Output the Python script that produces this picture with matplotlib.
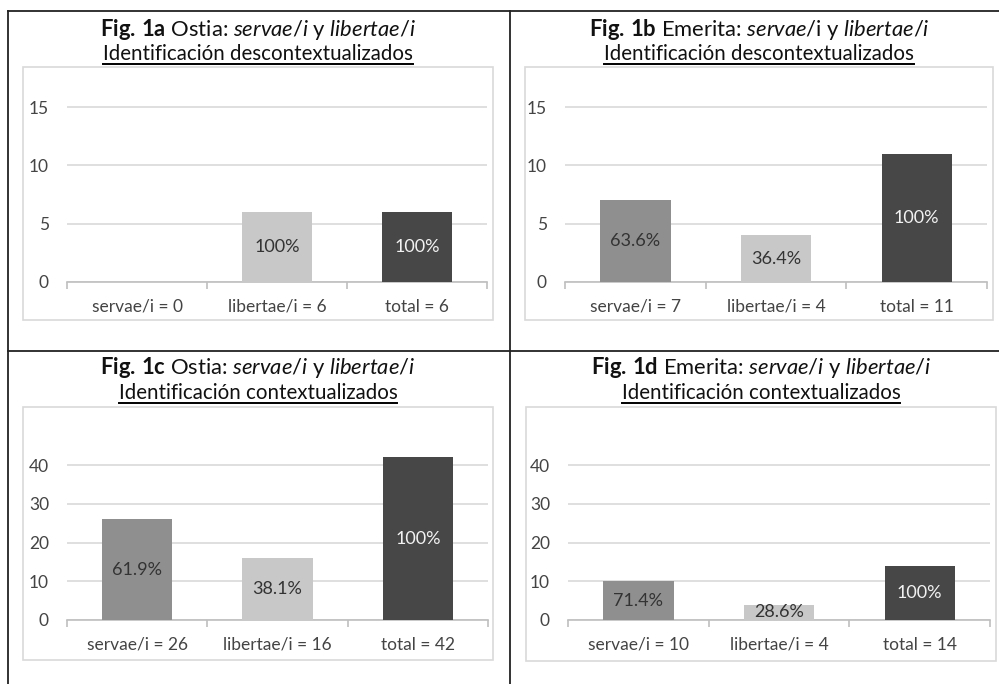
import numpy as np
import matplotlib
matplotlib.use("Agg")
import matplotlib.pyplot as plt
from matplotlib.lines import Line2D
from matplotlib.patches import Rectangle

plt.rcParams['font.family'] = ['Lato', 'DejaVu Sans']
plt.rcParams['mathtext.fontset'] = 'custom'
plt.rcParams['mathtext.rm'] = 'Lato'
plt.rcParams['mathtext.it'] = 'Lato:italic'
plt.rcParams['mathtext.bf'] = 'Lato:bold'

# data
cats_a = ["servae/i = 0", "libertae/i = 6", "total = 6"]
vals_a = [0, 6, 6]
pct_a = ["", "100%", "100%"]

cats_b = ["servae/i = 7", "libertae/i = 4", "total = 11"]
vals_b = [7, 4, 11]
pct_b = ["63.6%", "36.4%", "100%"]

cats_c = ["servae/i = 26", "libertae/i = 16", "total = 42"]
vals_c = [26, 16, 42]
pct_c = ["61.9%", "38.1%", "100%"]

cats_d = ["servae/i = 10", "libertae/i = 4", "total = 14"]
vals_d = [10, 4, 14]
pct_d = ["71.4%", "28.6%", "100%"]

titles1 = [r"$\mathbf{Fig.}\,\mathbf{1a}$ Ostia: $\mathit{servae/i}$ y $\mathit{libertae/i}$",
           r"$\mathbf{Fig.}\,\mathbf{1b}$ Emerita: $\mathit{servae/}$i y $\mathit{libertae/i}$",
           r"$\mathbf{Fig.}\,\mathbf{1c}$ Ostia: $\mathit{servae/i}$ y $\mathit{libertae/i}$",
           r"$\mathbf{Fig.}\,\mathbf{1d}$ Emerita: $\mathit{servae/i}$ y $\mathit{libertae/i}$"]
titles2 = ["Identificación descontextualizados", "Identificación descontextualizados",
           "Identificación contextualizados", "Identificación contextualizados"]

bar_colors = ["#8f8f8f", "#c8c8c8", "#474747"]
txt_colors = ["#333333", "#333333", "#f2f2f2"]

W, H = 999, 684
fig = plt.figure(figsize=(W / 100, H / 100), dpi=100)

def fx(px):
    return px / W

def fy(py):
    return 1 - py / H

# pixel layout: chart box (l, t, r, b), axes (l, r, y of last gridline, y of zero)
panels = [
    (cats_a, vals_a, pct_a, (23, 67, 493, 320), (67, 487, 107, 282), 15, 17, [0, 5, 10, 15], 29, 54),
    (cats_b, vals_b, pct_b, (525, 67, 993, 320), (565, 987, 107, 282), 15, 17, [0, 5, 10, 15], 29, 54),
    (cats_c, vals_c, pct_c, (23, 407, 493, 660), (67, 488, 465, 620), 40, 45, [0, 10, 20, 30, 40], 367, 393),
    (cats_d, vals_d, pct_d, (526, 407, 996, 661), (568, 990, 465, 620), 40, 45, [0, 10, 20, 30, 40], 367, 393),
]

texts2 = []
for i, (cats, vals, pcts, box, ax_px, ygrid, ymax, yticks, t1y, t2y) in enumerate(panels):
    bl, bt, br, bb = box
    fig.add_artist(Rectangle((fx(bl), fy(bb)), fx(br - bl), fy(bt) - fy(bb),
                             transform=fig.transFigure, fill=False,
                             edgecolor="#d9d9d9", linewidth=1.2))
    al, ar, agrid, a0 = ax_px
    atop = a0 - (a0 - agrid) * ymax / ygrid
    ax = fig.add_axes([fx(al), fy(a0), fx(ar - al), fy(atop) - fy(a0)])
    x = np.arange(len(cats))
    ax.bar(x, vals, width=0.5, color=bar_colors, zorder=3)
    for xi, v, p, tc in zip(x, vals, pcts, txt_colors):
        if p:
            ax.text(xi, v / 2, p, ha="center", va="center", color=tc,
                    fontsize=13, zorder=4)
    ax.set_xlim(-0.5, 2.5)
    ax.set_ylim(0, ymax)
    ax.set_yticks(yticks)
    ax.grid(axis="y", color="#d9d9d9", linewidth=1.2, zorder=0)
    ax.set_xticks(x)
    ax.set_xticklabels(cats)
    ax.set_xticks([-0.5, 0.5, 1.5, 2.5], minor=True)
    ax.tick_params(axis="x", which="major", length=0, pad=12, labelsize=12.5, labelcolor="#444444")
    ax.tick_params(axis="x", which="minor", length=5, color="#bfbfbf", width=1.2)
    ax.tick_params(axis="y", length=0, pad=13, labelsize=12.5, labelcolor="#444444")
    for s in ["top", "right", "left"]:
        ax.spines[s].set_visible(False)
    ax.spines["bottom"].set_color("#bfbfbf")
    ax.spines["bottom"].set_linewidth(1.2)
    ax.set_facecolor("none")

    cx = fx((bl + br) / 2)
    fig.text(cx, fy(t1y), titles1[i], ha="center", va="center", fontsize=15.8, color="#111111")
    t2 = fig.text(cx, fy(t2y), titles2[i], ha="center", va="center", fontsize=14.8, color="#111111")
    texts2.append(t2)

# underline second title line
fig.canvas.draw()
r = fig.canvas.get_renderer()
inv = fig.transFigure.inverted()
for t in texts2:
    bb = t.get_window_extent(r)
    (x0, y0), (x1, _) = inv.transform([(bb.x0, bb.y0), (bb.x1, bb.y0)])
    fig.add_artist(Line2D([x0, x1], [y0, y0], transform=fig.transFigure, color="black", linewidth=1.4))

# table lines
for xs, ys in [((8, 8), (11, 684)), ((510, 510), (11, 684)), ((8, 999), (11, 11)), ((8, 999), (351, 351))]:
    fig.add_artist(Line2D([fx(xs[0]), fx(xs[1])], [fy(ys[0]), fy(ys[1])],
                          transform=fig.transFigure, color="#222222", linewidth=1.3))

fig.savefig("out.png", dpi=100)
